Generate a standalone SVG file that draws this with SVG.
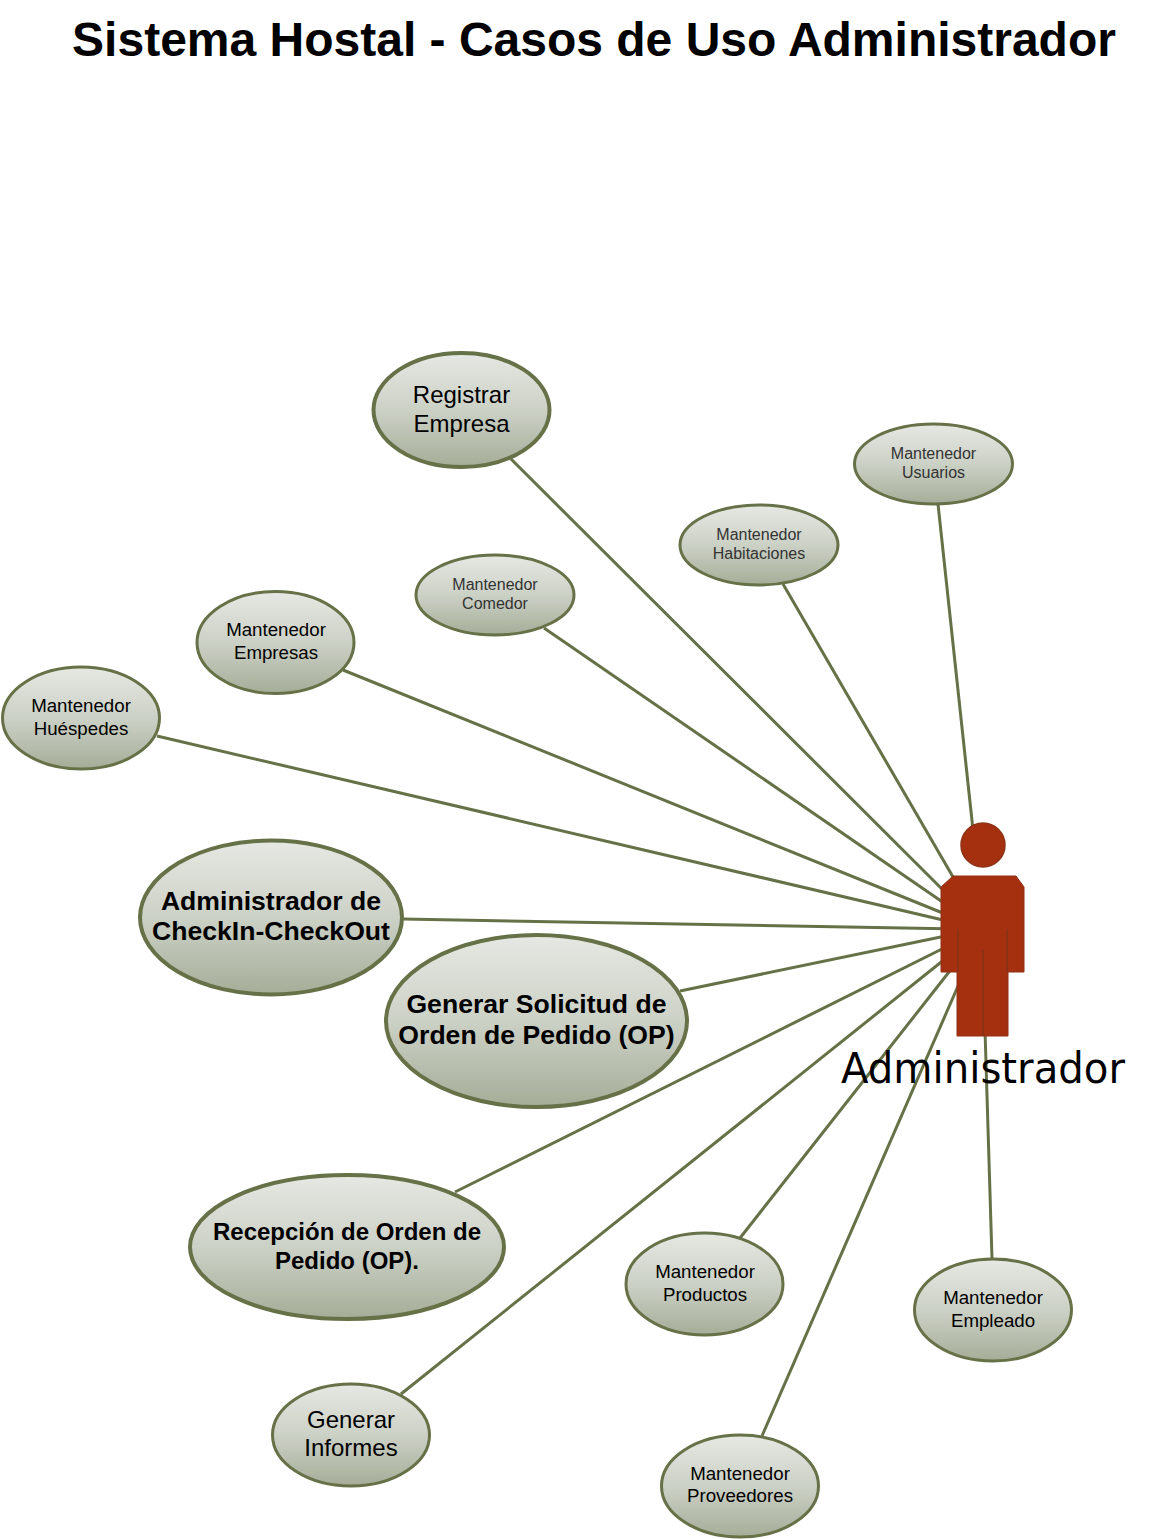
<svg xmlns="http://www.w3.org/2000/svg" width="1149" height="1539" viewBox="0 0 1149 1539">
<style>
text{font-family:"Liberation Sans",Arial,sans-serif;fill:#000;text-anchor:middle}
.o{fill:url(#g);stroke:#667147;stroke-width:3}
.t{stroke-width:4}
.c line{stroke:#667147;stroke-width:3}
.s{font-size:16px;fill:#333}
.m{font-size:18.700px}
.r{font-size:24px}
.b{font-size:26.600px;font-weight:bold}
</style>
<defs>
<linearGradient id="g" x1="0" y1="0" x2="0" y2="1"><stop offset="0" stop-color="#e6e8e3"/><stop offset="0.5" stop-color="#ccd1c6"/><stop offset="1" stop-color="#a5ad98"/></linearGradient>
</defs>
<rect width="1149" height="1539" fill="#fff"/>
<text id="title" x="594" y="56" style="font-size:48px;font-weight:bold">Sistema Hostal - Casos de Uso Administrador</text>
<g id="connectors" class="c">
<line x1="511" y1="459" x2="960" y2="907"/>
<line x1="938" y1="504" x2="973" y2="830"/>
<line x1="783" y1="584" x2="960" y2="889"/>
<line x1="544" y1="628" x2="960" y2="914"/>
<line x1="343" y1="670" x2="960" y2="920"/>
<line x1="157" y1="736" x2="960" y2="924"/>
<line x1="403" y1="919" x2="960" y2="929"/>
<line x1="680" y1="991" x2="960" y2="933"/>
<line x1="455" y1="1192" x2="960" y2="940"/>
<line x1="401" y1="1394" x2="960" y2="947"/>
<line x1="740" y1="1238" x2="960" y2="958"/>
<line x1="762" y1="1436" x2="965" y2="970"/>
<line x1="992" y1="1259" x2="985" y2="1030"/>
</g>
<g id="actor">
<circle cx="983" cy="845" r="22" fill="#a5300f" stroke="#8f3317" stroke-width="1.500"/>
<path d="M953 876H1016L1024 887V972H1008V1036H957V972H941V887Z" fill="#a5300f" stroke="#8f3317" stroke-width="1"/>
<path d="M958 929V972M1007 929V972M983 950V1036" fill="none" stroke="#84301a" stroke-width="1.500"/>
<text x="983" y="1083" textLength="284" lengthAdjust="spacingAndGlyphs" style="font-size:42px;font-family:'DejaVu Sans',sans-serif">Administrador</text>
</g>
<g id="registrar"><ellipse class="o t" cx="461.500" cy="410" rx="88" ry="57"/><text class="r" x="461.500" y="403">Registrar</text><text class="r" x="461.500" y="432">Empresa</text></g>
<g id="usuarios"><ellipse class="o" cx="933.500" cy="464" rx="79" ry="40"/><text class="s" x="933.500" y="459">Mantenedor</text><text class="s" x="933.500" y="478">Usuarios</text></g>
<g id="habitaciones"><ellipse class="o" cx="759" cy="545" rx="79" ry="40"/><text class="s" x="759" y="540">Mantenedor</text><text class="s" x="759" y="559">Habitaciones</text></g>
<g id="comedor"><ellipse class="o" cx="495" cy="595" rx="79" ry="40"/><text class="s" x="495" y="590">Mantenedor</text><text class="s" x="495" y="609">Comedor</text></g>
<g id="empresas"><ellipse class="o" cx="275.500" cy="642.500" rx="78.500" ry="51"/><text class="m" x="276" y="636">Mantenedor</text><text class="m" x="276" y="659">Empresas</text></g>
<g id="huespedes"><ellipse class="o" cx="81" cy="718" rx="78.500" ry="51"/><text class="m" x="81" y="712">Mantenedor</text><text class="m" x="81" y="735">Huéspedes</text></g>
<g id="checkin"><ellipse class="o t" cx="271" cy="917.500" rx="131" ry="77"/><text class="b" x="271" y="910">Administrador de</text><text class="b" x="271" y="940">CheckIn-CheckOut</text></g>
<g id="solicitud"><ellipse class="o t" cx="536.500" cy="1021" rx="150.500" ry="86"/><text class="b" x="536.500" y="1013">Generar Solicitud de</text><text class="b" x="536.500" y="1044">Orden de Pedido (OP)</text></g>
<g id="recepcion"><ellipse class="o t" cx="347" cy="1247" rx="157" ry="72"/><text class="b" style="font-size:24px" x="347" y="1240">Recepción de Orden de</text><text class="b" style="font-size:24px" x="347" y="1269">Pedido (OP).</text></g>
<g id="informes"><ellipse class="o" cx="351" cy="1435" rx="78.500" ry="51"/><text class="r" x="351" y="1428">Generar</text><text class="r" x="351" y="1456">Informes</text></g>
<g id="productos"><ellipse class="o" cx="704.500" cy="1284" rx="78.500" ry="51"/><text class="m" x="705" y="1278">Mantenedor</text><text class="m" x="705" y="1301">Productos</text></g>
<g id="empleado"><ellipse class="o" cx="993" cy="1310" rx="78.500" ry="51"/><text class="m" x="993" y="1304">Mantenedor</text><text class="m" x="993" y="1327">Empleado</text></g>
<g id="proveedores"><ellipse class="o" cx="740" cy="1486" rx="78.500" ry="51"/><text class="m" x="740" y="1480">Mantenedor</text><text class="m" x="740" y="1502">Proveedores</text></g>
</svg>
